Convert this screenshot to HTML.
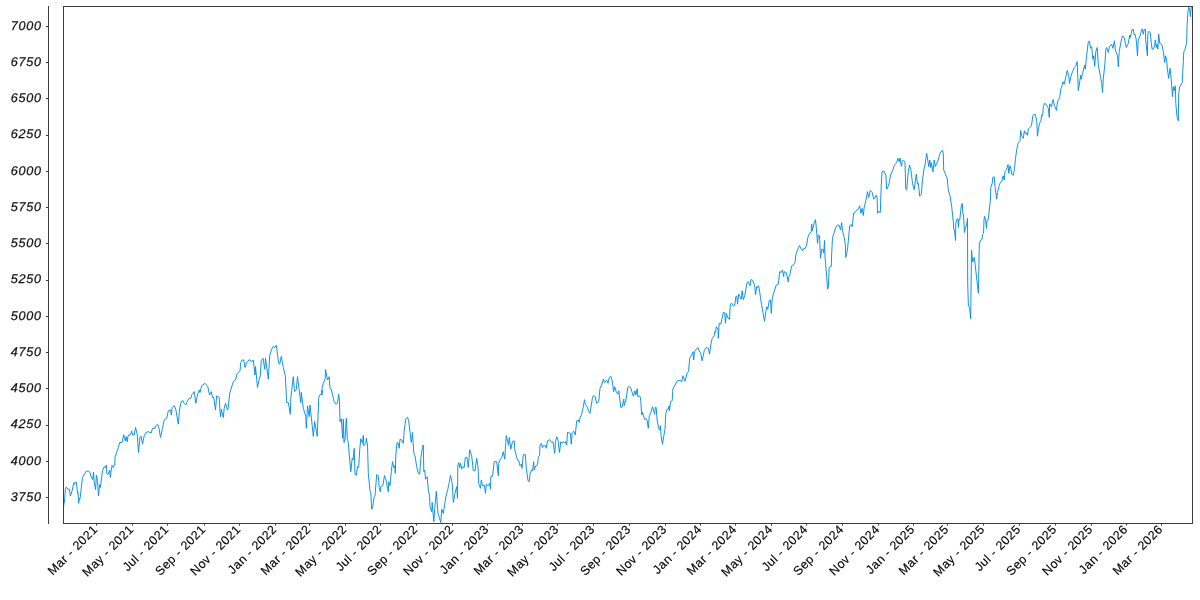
<!DOCTYPE html>
<html><head><meta charset="utf-8"><title>chart</title>
<style>
html,body{margin:0;padding:0;background:#fff;}
body{width:1200px;height:600px;overflow:hidden;position:relative;font-family:"Liberation Sans",sans-serif;}
svg{position:absolute;left:0;top:0;}
text{text-rendering:geometricPrecision;}
.yl{font-family:"Liberation Sans",sans-serif;font-style:italic;font-size:12.6px;fill:#111;letter-spacing:0.75px;stroke:#111;stroke-width:0.25px;}
.xl{font-family:"Liberation Sans",sans-serif;font-size:12.4px;fill:#000;letter-spacing:0.48px;stroke:#000;stroke-width:0.15px;}
</style></head><body>
<svg width="1200" height="600" viewBox="0 0 1200 600">
<rect x="0" y="0" width="1200" height="600" fill="#ffffff"/>
<defs><clipPath id="c"><rect x="63.5" y="6.5" width="1129.0" height="517.0"/></clipPath></defs>

<path clip-path="url(#c)" d="M63.5 506.7 L63.8 505.0 L64.6 500.0 L65.4 489.2 L66.2 487.1 L68.3 489.6 L69.3 489.2 L70.4 495.8 L72.1 490.8 L73.8 482.9 L74.6 484.2 L75.0 482.1 L76.4 482.3 L77.5 493.3 L78.1 492.5 L78.5 503.3 L79.6 498.3 L80.0 498.8 L82.5 477.5 L83.8 474.6 L85.0 473.8 L86.2 471.2 L88.8 471.2 L90.0 472.9 L91.2 477.1 L92.7 479.6 L93.5 472.1 L94.2 481.7 L95.6 489.6 L96.4 475.0 L97.5 480.8 L98.5 495.8 L99.6 484.6 L100.4 487.5 L102.5 470.8 L104.2 466.7 L105.4 467.5 L106.4 465.0 L106.8 473.8 L107.9 474.6 L109.6 470.4 L110.4 477.5 L111.2 470.0 L112.1 465.4 L113.3 467.5 L114.2 465.4 L114.8 465.0 L115.0 457.5 L115.8 455.0 L118.3 447.5 L119.7 442.5 L121.7 442.5 L122.0 442.5 L123.7 434.7 L125.3 440.8 L126.2 436.7 L127.2 441.7 L128.0 435.8 L130.8 434.2 L131.7 430.8 L132.5 435.0 L134.2 435.0 L135.5 427.5 L137.2 434.2 L138.5 452.5 L140.0 436.7 L141.2 436.7 L142.5 444.2 L144.2 435.8 L145.8 432.5 L148.3 431.7 L151.2 433.0 L152.5 428.3 L155.0 428.3 L155.8 425.8 L157.5 424.2 L158.7 426.7 L160.5 437.5 L162.5 428.3 L164.2 420.0 L166.7 418.3 L168.3 410.8 L170.5 410.0 L171.3 415.0 L172.2 407.5 L174.2 405.5 L175.8 409.2 L178.3 424.2 L179.5 410.0 L181.2 401.7 L182.8 400.5 L184.2 403.3 L185.8 405.0 L187.5 400.8 L189.2 398.3 L190.8 398.3 L192.0 394.2 L194.2 391.7 L195.8 403.3 L197.5 395.0 L199.2 390.0 L200.0 392.5 L201.7 385.8 L205.0 383.3 L207.8 386.7 L209.5 395.0 L211.3 391.7 L212.5 397.5 L213.7 397.5 L215.5 410.0 L216.7 395.8 L219.2 397.5 L220.0 410.8 L220.5 416.7 L221.3 409.2 L223.3 417.5 L224.2 408.3 L225.5 403.3 L227.5 410.0 L228.3 407.5 L229.7 393.3 L232.5 384.2 L233.3 381.7 L235.8 379.2 L236.7 375.0 L237.5 373.3 L240.0 370.8 L240.8 362.5 L242.0 360.0 L243.8 360.0 L245.0 367.5 L246.7 362.5 L249.2 359.7 L251.7 361.7 L253.3 360.0 L255.0 375.0 L255.5 366.7 L257.5 387.5 L259.2 379.2 L260.3 375.8 L261.2 360.8 L263.0 358.3 L264.7 369.2 L265.5 358.3 L268.3 379.2 L269.7 355.8 L271.7 349.2 L273.3 346.2 L275.0 347.5 L276.3 345.3 L278.7 363.3 L279.7 364.2 L281.3 356.3 L283.3 367.5 L285.3 375.8 L286.7 402.5 L288.3 402.5 L290.3 414.2 L290.8 398.3 L293.3 376.7 L294.5 391.7 L296.2 390.0 L297.5 376.7 L300.8 402.5 L301.3 392.5 L303.3 408.3 L305.8 416.7 L306.3 428.3 L307.5 405.8 L309.2 416.7 L310.0 405.0 L313.3 436.3 L314.7 421.7 L317.2 436.3 L318.8 397.5 L320.3 394.2 L322.0 395.0 L321.7 390.0 L322.0 394.2 L322.2 387.5 L323.3 383.3 L325.3 378.3 L325.5 369.5 L327.5 380.0 L329.2 376.7 L330.0 388.3 L331.2 389.2 L334.2 401.7 L335.8 404.2 L337.5 403.3 L338.7 394.2 L339.5 401.7 L340.0 421.7 L341.3 418.7 L342.7 438.3 L343.3 419.2 L344.0 442.5 L345.0 440.0 L346.3 418.3 L347.3 438.3 L348.3 442.5 L349.7 460.0 L350.8 471.7 L352.2 458.3 L353.0 460.0 L354.2 448.3 L355.0 474.2 L356.3 475.3 L357.5 466.7 L358.7 467.5 L359.7 450.0 L360.8 438.7 L362.5 443.3 L363.3 435.3 L363.8 445.8 L365.8 443.3 L366.3 438.3 L367.5 445.0 L368.3 473.3 L370.0 490.8 L370.8 493.3 L371.7 509.2 L372.5 508.3 L374.2 496.7 L375.0 495.8 L376.7 474.7 L378.3 475.8 L379.2 487.5 L380.3 491.7 L380.8 486.7 L382.8 485.8 L384.5 475.5 L386.2 480.8 L387.5 488.3 L388.3 491.7 L388.7 481.7 L390.0 485.8 L391.3 471.7 L392.5 461.7 L393.8 467.5 L394.7 465.8 L395.3 473.3 L395.8 455.0 L397.0 442.5 L398.3 443.3 L399.2 448.3 L400.0 439.2 L401.7 440.0 L403.3 443.3 L404.2 430.8 L405.8 419.2 L407.5 417.2 L408.7 420.8 L411.3 442.5 L412.5 432.5 L413.8 453.3 L415.0 455.8 L416.7 466.7 L418.3 473.3 L419.7 474.2 L420.8 458.3 L422.2 449.2 L423.3 445.0 L423.8 471.7 L424.7 470.0 L425.5 479.2 L427.2 476.7 L428.3 490.0 L429.5 495.0 L430.0 506.7 L431.7 511.7 L432.2 502.5 L433.8 521.7 L435.0 505.8 L436.3 491.3 L438.0 513.3 L440.8 522.5 L441.7 509.2 L443.3 513.3 L445.0 502.5 L445.8 496.7 L447.5 490.8 L449.2 482.5 L450.5 475.3 L452.2 483.3 L453.3 502.5 L455.0 493.3 L456.7 486.7 L457.5 498.3 L457.8 465.8 L458.7 462.5 L459.7 467.5 L460.5 463.3 L461.7 469.2 L462.5 466.7 L464.2 467.5 L465.3 457.5 L467.0 457.5 L468.3 467.5 L469.7 449.7 L471.7 455.8 L473.3 470.8 L475.0 470.8 L476.7 458.3 L478.0 466.7 L478.8 484.2 L480.5 488.3 L481.3 480.0 L482.5 485.8 L484.2 485.0 L485.5 493.3 L486.3 484.2 L488.3 485.8 L489.7 483.3 L490.5 489.2 L490.8 476.7 L492.5 476.3 L494.2 461.7 L496.7 461.7 L498.3 475.8 L498.7 463.3 L500.0 460.0 L501.7 457.5 L503.3 451.7 L504.7 459.2 L505.8 442.5 L506.3 435.5 L508.5 445.3 L509.3 437.5 L510.8 449.2 L512.5 441.7 L514.2 440.8 L514.7 449.2 L516.7 457.5 L518.0 460.8 L518.8 460.8 L520.0 465.8 L521.3 464.2 L522.0 468.3 L523.3 454.7 L525.3 454.7 L526.3 468.3 L528.0 480.8 L529.2 481.7 L530.0 474.2 L531.7 470.0 L532.5 470.8 L533.7 461.7 L534.2 470.0 L535.8 465.8 L537.5 465.0 L538.3 456.7 L539.5 455.8 L540.0 445.0 L541.3 443.3 L542.5 447.5 L543.3 445.8 L545.8 445.8 L546.2 448.3 L547.5 440.8 L549.7 439.7 L551.7 442.5 L553.0 441.7 L554.7 453.3 L555.5 441.7 L556.7 436.7 L558.0 440.0 L559.5 452.5 L560.8 441.7 L562.2 443.3 L563.3 441.7 L565.0 443.0 L565.8 441.7 L566.7 445.0 L567.5 432.5 L570.3 433.3 L571.3 444.2 L572.2 432.5 L573.8 431.2 L575.3 435.0 L576.7 420.8 L578.3 420.0 L579.2 422.5 L580.0 418.3 L581.7 414.2 L583.3 406.7 L584.5 399.7 L585.3 404.2 L587.5 407.5 L588.3 410.8 L590.0 413.3 L592.5 397.5 L593.3 395.8 L595.0 396.3 L596.7 403.3 L598.7 401.7 L600.0 388.3 L602.0 384.2 L603.3 379.2 L604.7 382.5 L606.7 380.0 L608.0 383.3 L609.2 377.5 L610.8 376.3 L612.0 380.0 L613.7 391.7 L614.7 386.7 L616.2 391.7 L617.8 394.2 L618.8 390.8 L620.8 407.5 L622.2 407.0 L623.8 399.2 L624.2 405.8 L625.8 400.8 L627.8 387.5 L629.2 386.3 L630.8 388.0 L633.3 396.3 L635.0 390.8 L635.8 395.0 L637.2 388.7 L637.8 396.7 L639.5 395.8 L640.5 397.5 L641.7 415.0 L642.5 412.5 L644.7 419.7 L645.8 418.3 L647.0 420.0 L648.3 428.3 L649.2 416.7 L650.8 412.5 L652.5 406.7 L654.7 414.2 L655.3 407.5 L656.2 407.5 L657.0 419.2 L658.7 428.3 L660.0 430.0 L660.3 425.8 L661.2 436.7 L662.5 444.2 L663.8 435.8 L665.0 429.2 L665.8 413.3 L667.2 409.2 L668.3 409.2 L669.2 405.8 L669.5 410.8 L670.5 401.7 L672.2 400.8 L672.8 389.2 L675.0 385.0 L677.5 380.8 L680.0 380.3 L681.7 381.7 L683.0 375.8 L685.0 381.3 L687.0 373.3 L688.3 371.7 L688.7 370.0 L689.7 358.3 L691.7 355.0 L693.0 351.7 L693.7 360.0 L694.5 351.7 L695.8 350.0 L698.0 347.5 L699.2 350.8 L700.8 353.3 L702.0 360.8 L703.3 355.8 L704.2 350.8 L706.2 347.5 L708.3 348.3 L709.5 354.2 L710.8 345.0 L712.2 338.3 L714.2 335.8 L714.7 331.7 L715.5 332.5 L716.3 326.7 L718.0 329.2 L718.3 338.3 L719.2 323.3 L720.8 324.2 L721.7 320.0 L723.3 312.5 L724.7 312.5 L725.5 323.3 L726.3 313.3 L728.0 318.3 L729.5 319.2 L730.3 304.2 L731.7 303.3 L733.3 305.8 L734.7 305.8 L735.8 296.7 L736.7 295.8 L737.5 304.2 L738.7 294.2 L740.0 296.7 L741.2 299.2 L742.2 290.8 L743.3 299.7 L744.7 295.8 L745.8 290.0 L747.0 282.5 L748.3 281.7 L750.0 285.8 L750.8 280.0 L752.0 279.5 L753.3 281.7 L754.7 285.8 L755.5 295.0 L756.7 286.7 L757.5 287.5 L758.3 285.8 L759.2 288.3 L760.8 300.0 L762.5 310.0 L764.5 321.3 L765.8 311.7 L766.7 306.7 L767.8 309.2 L769.2 300.8 L770.5 300.0 L771.3 313.3 L772.2 299.2 L773.3 294.2 L775.0 289.2 L776.3 285.0 L778.3 284.2 L779.7 271.7 L781.3 272.5 L782.5 270.0 L783.7 276.7 L784.2 271.7 L786.3 272.5 L788.3 282.0 L788.8 276.7 L790.0 274.2 L791.7 265.8 L793.3 265.0 L795.0 262.5 L795.8 255.0 L797.5 250.0 L799.5 245.5 L800.8 248.3 L802.5 250.8 L803.8 248.3 L805.0 248.7 L806.7 245.0 L807.8 237.5 L809.2 234.2 L811.2 231.7 L811.7 224.2 L812.2 230.8 L814.2 223.3 L815.5 219.7 L816.3 227.5 L817.5 243.3 L818.3 235.0 L819.5 235.8 L820.5 258.3 L821.7 249.2 L823.3 249.7 L823.8 253.3 L824.5 240.5 L825.0 256.7 L826.7 276.7 L827.5 289.2 L828.3 287.5 L829.2 268.3 L830.0 266.7 L831.3 266.3 L831.7 253.3 L832.5 237.5 L834.2 232.5 L835.8 227.5 L837.5 225.0 L839.2 225.3 L840.5 230.0 L841.7 222.5 L842.5 230.8 L844.2 237.5 L845.3 244.2 L845.8 257.5 L847.5 249.2 L848.3 240.8 L849.7 225.8 L851.3 224.7 L852.2 226.7 L853.7 213.0 L855.0 212.5 L856.7 210.0 L858.3 208.7 L859.7 205.8 L860.8 213.3 L862.2 208.3 L863.3 215.5 L864.2 207.5 L865.8 200.8 L867.5 191.7 L868.7 197.5 L870.3 190.5 L872.2 192.5 L873.8 199.2 L875.0 197.5 L876.2 195.3 L877.2 198.3 L877.5 213.3 L878.7 211.3 L880.3 212.5 L881.2 186.7 L882.0 171.7 L884.2 171.3 L885.8 175.0 L886.7 189.2 L888.0 186.7 L889.2 183.3 L890.5 175.0 L892.5 170.8 L894.2 165.8 L896.7 162.5 L897.8 158.3 L899.2 161.7 L900.0 158.0 L901.3 166.3 L902.5 160.8 L903.7 160.3 L905.0 162.5 L905.8 189.2 L906.7 190.0 L908.3 171.7 L909.5 165.0 L910.8 169.2 L912.5 183.3 L914.2 189.7 L915.5 180.0 L916.3 174.2 L917.5 184.2 L918.3 183.3 L919.7 196.2 L921.3 194.2 L922.5 180.0 L923.8 170.0 L925.0 165.0 L926.7 153.3 L928.8 166.7 L929.7 160.0 L930.8 167.5 L931.3 162.5 L933.0 171.7 L934.2 160.0 L935.3 166.7 L936.7 163.3 L938.0 160.8 L940.0 153.3 L942.5 150.3 L943.3 153.3 L943.7 170.0 L945.8 175.0 L947.2 178.3 L948.3 190.0 L950.0 195.8 L951.7 206.7 L953.3 221.7 L953.8 229.0 L954.7 232.0 L955.5 240.5 L955.8 223.0 L957.0 219.5 L957.8 218.5 L958.5 227.5 L959.0 219.5 L959.8 220.0 L960.5 213.0 L961.5 204.5 L962.3 203.5 L962.8 213.0 L963.5 215.0 L964.5 232.5 L965.5 227.0 L966.5 226.0 L967.5 218.3 L967.7 283.3 L968.4 306.0 L969.6 307.3 L970.7 318.7 L971.5 250.0 L972.7 262.0 L974.3 257.3 L978.4 293.3 L978.8 271.3 L979.3 244.0 L980.5 240.5 L982.0 239.5 L982.5 234.5 L983.5 233.5 L984.0 220.0 L984.5 216.2 L985.5 219.0 L986.5 228.5 L987.0 221.0 L988.0 220.5 L989.0 213.0 L990.0 203.0 L990.5 200.0 L990.8 187.5 L992.2 183.3 L992.8 177.5 L994.2 176.7 L995.0 186.7 L996.7 199.2 L997.5 192.5 L999.2 185.8 L1000.0 183.3 L1002.0 180.8 L1003.0 175.8 L1004.2 180.0 L1005.0 171.7 L1006.7 169.2 L1008.0 164.5 L1008.8 173.3 L1010.0 165.8 L1010.8 168.3 L1011.7 174.2 L1013.3 175.3 L1014.5 168.3 L1015.5 158.3 L1016.7 150.0 L1018.3 142.5 L1020.0 140.8 L1020.6 130.4 L1021.7 135.8 L1022.1 136.7 L1023.3 138.3 L1024.3 130.8 L1025.0 133.3 L1026.2 132.5 L1027.5 135.4 L1028.3 128.8 L1029.6 127.9 L1030.8 126.7 L1031.7 124.2 L1032.9 115.4 L1033.8 114.3 L1035.4 114.6 L1036.0 117.9 L1036.7 120.0 L1037.5 136.2 L1038.3 129.2 L1039.6 123.3 L1040.8 121.2 L1041.7 115.0 L1042.7 115.8 L1043.3 106.7 L1044.6 103.3 L1045.7 103.8 L1047.5 106.7 L1048.3 108.3 L1049.3 117.5 L1049.6 103.8 L1050.4 105.0 L1051.5 107.1 L1052.5 100.8 L1053.3 99.6 L1054.2 105.0 L1056.5 110.4 L1057.1 104.2 L1057.9 100.8 L1059.7 97.5 L1060.8 89.2 L1062.0 85.8 L1063.0 81.7 L1064.2 84.2 L1065.5 78.3 L1067.2 70.5 L1068.7 75.8 L1069.5 83.3 L1070.8 76.7 L1072.5 71.7 L1074.2 67.5 L1075.8 65.8 L1077.2 61.7 L1078.3 90.5 L1079.7 81.7 L1080.8 75.0 L1081.2 79.2 L1082.8 72.5 L1084.7 65.0 L1085.3 69.2 L1086.7 55.0 L1088.3 41.7 L1089.5 41.3 L1090.5 48.3 L1091.7 46.7 L1092.8 59.2 L1093.8 55.8 L1094.7 66.3 L1095.8 51.7 L1097.2 47.5 L1098.3 65.0 L1100.0 74.2 L1101.7 83.3 L1102.5 92.5 L1103.3 79.2 L1105.0 62.5 L1105.8 49.2 L1106.7 47.5 L1108.3 52.5 L1109.5 46.7 L1111.7 44.2 L1112.8 48.3 L1114.5 40.8 L1115.3 50.0 L1117.5 55.8 L1118.3 66.8 L1119.2 51.7 L1120.8 42.5 L1122.5 35.8 L1124.2 37.5 L1126.3 47.5 L1128.3 43.3 L1129.7 35.0 L1130.3 37.5 L1132.1 29.6 L1133.3 29.2 L1134.2 35.0 L1135.0 34.2 L1136.2 39.2 L1137.5 56.0 L1138.3 38.8 L1139.2 38.3 L1140.8 33.3 L1141.7 29.2 L1142.5 29.2 L1143.3 34.2 L1144.2 29.6 L1145.4 29.2 L1145.7 40.0 L1147.4 56.0 L1147.8 35.0 L1148.3 32.1 L1149.2 31.2 L1150.4 33.3 L1151.2 42.5 L1152.1 49.2 L1153.3 49.2 L1154.5 45.8 L1155.3 40.0 L1156.2 47.5 L1157.2 44.2 L1157.8 49.2 L1158.7 34.2 L1159.7 43.3 L1160.8 43.3 L1162.0 45.0 L1163.3 51.7 L1164.7 62.5 L1165.5 55.8 L1166.7 60.0 L1167.5 70.0 L1168.7 78.3 L1170.0 68.3 L1170.8 75.0 L1171.7 85.8 L1172.5 96.7 L1173.3 86.7 L1174.2 90.8 L1175.3 85.8 L1175.8 103.3 L1177.0 116.7 L1178.3 120.8 L1178.7 93.3 L1179.7 86.7 L1180.8 85.0 L1182.2 82.5 L1183.3 61.7 L1183.8 51.7 L1184.7 50.8 L1186.3 44.2 L1186.7 41.7 L1187.1 25.0 L1187.9 12.5 L1188.6 7.1 L1189.6 9.2 L1190.4 16.7 L1191.2 7.1 L1191.8 6.8" fill="none" stroke="#058ee4" stroke-width="0.95" stroke-linejoin="round" stroke-linecap="butt"/>
<rect x="63.5" y="6.5" width="1129.0" height="517.0" fill="none" stroke="#3c3c3c" stroke-width="1"/>
<g opacity="0.999">
<line x1="48.5" y1="6" x2="48.5" y2="524" stroke="#3c3c3c" stroke-width="1"/>
<line x1="46" y1="26.50" x2="48.5" y2="26.50" stroke="#3c3c3c" stroke-width="1"/>
<text class="yl" x="41.9" y="29.70" text-anchor="end">7000</text>
<line x1="46" y1="62.50" x2="48.5" y2="62.50" stroke="#3c3c3c" stroke-width="1"/>
<text class="yl" x="41.9" y="65.95" text-anchor="end">6750</text>
<line x1="46" y1="98.50" x2="48.5" y2="98.50" stroke="#3c3c3c" stroke-width="1"/>
<text class="yl" x="41.9" y="102.20" text-anchor="end">6500</text>
<line x1="46" y1="135.50" x2="48.5" y2="135.50" stroke="#3c3c3c" stroke-width="1"/>
<text class="yl" x="41.9" y="138.45" text-anchor="end">6250</text>
<line x1="46" y1="171.50" x2="48.5" y2="171.50" stroke="#3c3c3c" stroke-width="1"/>
<text class="yl" x="41.9" y="174.70" text-anchor="end">6000</text>
<line x1="46" y1="207.50" x2="48.5" y2="207.50" stroke="#3c3c3c" stroke-width="1"/>
<text class="yl" x="41.9" y="210.95" text-anchor="end">5750</text>
<line x1="46" y1="243.50" x2="48.5" y2="243.50" stroke="#3c3c3c" stroke-width="1"/>
<text class="yl" x="41.9" y="247.20" text-anchor="end">5500</text>
<line x1="46" y1="280.50" x2="48.5" y2="280.50" stroke="#3c3c3c" stroke-width="1"/>
<text class="yl" x="41.9" y="283.45" text-anchor="end">5250</text>
<line x1="46" y1="316.50" x2="48.5" y2="316.50" stroke="#3c3c3c" stroke-width="1"/>
<text class="yl" x="41.9" y="319.70" text-anchor="end">5000</text>
<line x1="46" y1="352.50" x2="48.5" y2="352.50" stroke="#3c3c3c" stroke-width="1"/>
<text class="yl" x="41.9" y="355.95" text-anchor="end">4750</text>
<line x1="46" y1="388.50" x2="48.5" y2="388.50" stroke="#3c3c3c" stroke-width="1"/>
<text class="yl" x="41.9" y="392.20" text-anchor="end">4500</text>
<line x1="46" y1="425.50" x2="48.5" y2="425.50" stroke="#3c3c3c" stroke-width="1"/>
<text class="yl" x="41.9" y="428.45" text-anchor="end">4250</text>
<line x1="46" y1="461.50" x2="48.5" y2="461.50" stroke="#3c3c3c" stroke-width="1"/>
<text class="yl" x="41.9" y="464.70" text-anchor="end">4000</text>
<line x1="46" y1="497.50" x2="48.5" y2="497.50" stroke="#3c3c3c" stroke-width="1"/>
<text class="yl" x="41.9" y="500.95" text-anchor="end">3750</text>
<line x1="96.50" y1="523.5" x2="96.50" y2="525.6" stroke="#3c3c3c" stroke-width="1"/>
<text class="xl" text-anchor="end" transform="translate(98.50,530.00) rotate(-45)">Mar - 2021</text>
<line x1="132.50" y1="523.5" x2="132.50" y2="525.6" stroke="#3c3c3c" stroke-width="1"/>
<text class="xl" text-anchor="end" transform="translate(134.50,530.00) rotate(-45)">May - 2021</text>
<line x1="167.50" y1="523.5" x2="167.50" y2="525.6" stroke="#3c3c3c" stroke-width="1"/>
<text class="xl" text-anchor="end" transform="translate(169.50,530.00) rotate(-45)">Jul - 2021</text>
<line x1="204.50" y1="523.5" x2="204.50" y2="525.6" stroke="#3c3c3c" stroke-width="1"/>
<text class="xl" text-anchor="end" transform="translate(206.50,530.00) rotate(-45)">Sep - 2021</text>
<line x1="239.50" y1="523.5" x2="239.50" y2="525.6" stroke="#3c3c3c" stroke-width="1"/>
<text class="xl" text-anchor="end" transform="translate(241.50,530.00) rotate(-45)">Nov - 2021</text>
<line x1="275.50" y1="523.5" x2="275.50" y2="525.6" stroke="#3c3c3c" stroke-width="1"/>
<text class="xl" text-anchor="end" transform="translate(277.50,530.00) rotate(-45)">Jan - 2022</text>
<line x1="309.50" y1="523.5" x2="309.50" y2="525.6" stroke="#3c3c3c" stroke-width="1"/>
<text class="xl" text-anchor="end" transform="translate(311.50,530.00) rotate(-45)">Mar - 2022</text>
<line x1="345.50" y1="523.5" x2="345.50" y2="525.6" stroke="#3c3c3c" stroke-width="1"/>
<text class="xl" text-anchor="end" transform="translate(347.50,530.00) rotate(-45)">May - 2022</text>
<line x1="380.50" y1="523.5" x2="380.50" y2="525.6" stroke="#3c3c3c" stroke-width="1"/>
<text class="xl" text-anchor="end" transform="translate(382.50,530.00) rotate(-45)">Jul - 2022</text>
<line x1="416.50" y1="523.5" x2="416.50" y2="525.6" stroke="#3c3c3c" stroke-width="1"/>
<text class="xl" text-anchor="end" transform="translate(418.50,530.00) rotate(-45)">Sep - 2022</text>
<line x1="452.50" y1="523.5" x2="452.50" y2="525.6" stroke="#3c3c3c" stroke-width="1"/>
<text class="xl" text-anchor="end" transform="translate(454.50,530.00) rotate(-45)">Nov - 2022</text>
<line x1="487.50" y1="523.5" x2="487.50" y2="525.6" stroke="#3c3c3c" stroke-width="1"/>
<text class="xl" text-anchor="end" transform="translate(489.50,530.00) rotate(-45)">Jan - 2023</text>
<line x1="522.50" y1="523.5" x2="522.50" y2="525.6" stroke="#3c3c3c" stroke-width="1"/>
<text class="xl" text-anchor="end" transform="translate(524.50,530.00) rotate(-45)">Mar - 2023</text>
<line x1="557.50" y1="523.5" x2="557.50" y2="525.6" stroke="#3c3c3c" stroke-width="1"/>
<text class="xl" text-anchor="end" transform="translate(559.50,530.00) rotate(-45)">May - 2023</text>
<line x1="593.50" y1="523.5" x2="593.50" y2="525.6" stroke="#3c3c3c" stroke-width="1"/>
<text class="xl" text-anchor="end" transform="translate(595.50,530.00) rotate(-45)">Jul - 2023</text>
<line x1="629.50" y1="523.5" x2="629.50" y2="525.6" stroke="#3c3c3c" stroke-width="1"/>
<text class="xl" text-anchor="end" transform="translate(631.50,530.00) rotate(-45)">Sep - 2023</text>
<line x1="665.50" y1="523.5" x2="665.50" y2="525.6" stroke="#3c3c3c" stroke-width="1"/>
<text class="xl" text-anchor="end" transform="translate(667.50,530.00) rotate(-45)">Nov - 2023</text>
<line x1="700.50" y1="523.5" x2="700.50" y2="525.6" stroke="#3c3c3c" stroke-width="1"/>
<text class="xl" text-anchor="end" transform="translate(702.50,530.00) rotate(-45)">Jan - 2024</text>
<line x1="735.50" y1="523.5" x2="735.50" y2="525.6" stroke="#3c3c3c" stroke-width="1"/>
<text class="xl" text-anchor="end" transform="translate(737.50,530.00) rotate(-45)">Mar - 2024</text>
<line x1="771.50" y1="523.5" x2="771.50" y2="525.6" stroke="#3c3c3c" stroke-width="1"/>
<text class="xl" text-anchor="end" transform="translate(773.50,530.00) rotate(-45)">May - 2024</text>
<line x1="806.50" y1="523.5" x2="806.50" y2="525.6" stroke="#3c3c3c" stroke-width="1"/>
<text class="xl" text-anchor="end" transform="translate(808.50,530.00) rotate(-45)">Jul - 2024</text>
<line x1="842.50" y1="523.5" x2="842.50" y2="525.6" stroke="#3c3c3c" stroke-width="1"/>
<text class="xl" text-anchor="end" transform="translate(844.50,530.00) rotate(-45)">Sep - 2024</text>
<line x1="878.50" y1="523.5" x2="878.50" y2="525.6" stroke="#3c3c3c" stroke-width="1"/>
<text class="xl" text-anchor="end" transform="translate(880.50,530.00) rotate(-45)">Nov - 2024</text>
<line x1="913.50" y1="523.5" x2="913.50" y2="525.6" stroke="#3c3c3c" stroke-width="1"/>
<text class="xl" text-anchor="end" transform="translate(915.50,530.00) rotate(-45)">Jan - 2025</text>
<line x1="947.50" y1="523.5" x2="947.50" y2="525.6" stroke="#3c3c3c" stroke-width="1"/>
<text class="xl" text-anchor="end" transform="translate(949.50,530.00) rotate(-45)">Mar - 2025</text>
<line x1="983.50" y1="523.5" x2="983.50" y2="525.6" stroke="#3c3c3c" stroke-width="1"/>
<text class="xl" text-anchor="end" transform="translate(985.50,530.00) rotate(-45)">May - 2025</text>
<line x1="1019.50" y1="523.5" x2="1019.50" y2="525.6" stroke="#3c3c3c" stroke-width="1"/>
<text class="xl" text-anchor="end" transform="translate(1021.50,530.00) rotate(-45)">Jul - 2025</text>
<line x1="1055.50" y1="523.5" x2="1055.50" y2="525.6" stroke="#3c3c3c" stroke-width="1"/>
<text class="xl" text-anchor="end" transform="translate(1057.50,530.00) rotate(-45)">Sep - 2025</text>
<line x1="1091.50" y1="523.5" x2="1091.50" y2="525.6" stroke="#3c3c3c" stroke-width="1"/>
<text class="xl" text-anchor="end" transform="translate(1093.50,530.00) rotate(-45)">Nov - 2025</text>
<line x1="1126.50" y1="523.5" x2="1126.50" y2="525.6" stroke="#3c3c3c" stroke-width="1"/>
<text class="xl" text-anchor="end" transform="translate(1128.50,530.00) rotate(-45)">Jan - 2026</text>
<line x1="1161.50" y1="523.5" x2="1161.50" y2="525.6" stroke="#3c3c3c" stroke-width="1"/>
<text class="xl" text-anchor="end" transform="translate(1163.50,530.00) rotate(-45)">Mar - 2026</text>
</g></svg></body></html>
